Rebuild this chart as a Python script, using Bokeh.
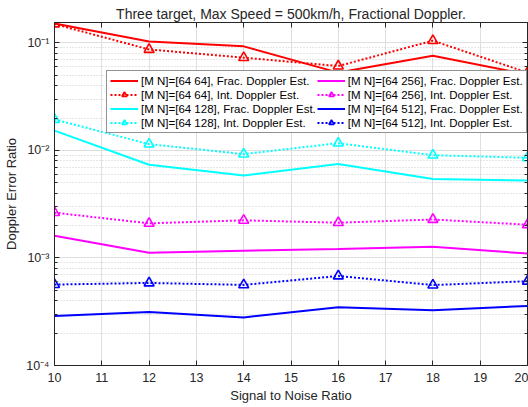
from bokeh.plotting import figure
from bokeh.models import (Legend, LegendItem, LinearAxis, LogAxis, CustomJSTickFormatter,
                          FixedTicker, Range1d)
from bokeh.embed import file_html
from bokeh.resources import INLINE

snr = [10, 12, 14, 16, 18, 20]
frac_64 = [0.152, 0.103, 0.093, 0.053, 0.076, 0.051]
int_64 = [0.150, 0.087, 0.073, 0.061, 0.105, 0.053]
frac_128 = [0.0153, 0.00736, 0.00586, 0.0075, 0.00542, 0.00526]
int_128 = [0.0194, 0.01146, 0.00925, 0.0117, 0.00904, 0.00855]
frac_256 = [0.00161, 0.00112, 0.00117, 0.00121, 0.00127, 0.0011]
int_256 = [0.00264, 0.0021, 0.00224, 0.00213, 0.00228, 0.00204]
frac_512 = [0.000289, 0.000315, 0.00028, 0.000348, 0.000327, 0.000358]
int_512 = [0.000566, 0.000586, 0.000562, 0.00068, 0.00056, 0.000608]

sizes = ["64 64", "64 128", "64 256", "64 512"]
colors = ["#ff0000", "#00ffff", "#ff00ff", "#0000ff"]
frac_series = [frac_64, frac_128, frac_256, frac_512]
int_series = [int_64, int_128, int_256, int_512]

x_ticks = list(range(10, 21))
y_major = [1e-4, 1e-3, 1e-2, 1e-1]

FONT = "Liberation Sans"
TXT = "#262626"

p = figure(width=528, height=407, output_backend="svg", toolbar_location=None,
           x_range=Range1d(10, 20), y_range=Range1d(1e-4, 0.155), y_axis_type="log",
           min_border_left=54, min_border_right=1, min_border_top=22, min_border_bottom=42,
           x_axis_label="Signal to Noise Ratio", y_axis_label="Doppler Error Ratio")

p.title.text = "Three target, Max Speed = 500km/h, Fractional Doppler."
p.title.align = "center"
p.title.text_font = FONT
p.title.text_font_size = "14px"
p.title.text_font_style = "normal"
p.title.text_color = TXT
p.title.standoff = 1

p.outline_line_color = TXT
p.outline_line_width = 1

minor = [k * d for d in [1e-4, 1e-3, 1e-2, 1e-1] for k in range(2, 10)]
yticker = FixedTicker(ticks=y_major, minor_ticks=minor)
xticker = FixedTicker(ticks=x_ticks, minor_ticks=[])

fmt = CustomJSTickFormatter(code="""
const e = Math.round(Math.log10(tick));
const sup = {'-':'\u207b','0':'\u2070','1':'\u00b9','2':'\u00b2','3':'\u00b3','4':'\u2074','5':'\u2075','6':'\u2076','7':'\u2077','8':'\u2078','9':'\u2079'};
return '10' + String(e).split('').map(c => sup[c]).join('');
""")
blank = CustomJSTickFormatter(code="return '';")

def style_axis(ax):
    ax.major_tick_in = 5
    ax.major_tick_out = 0
    ax.minor_tick_in = 3
    ax.minor_tick_out = 0
    ax.axis_line_color = TXT
    ax.major_tick_line_color = TXT
    ax.minor_tick_line_color = TXT
    ax.major_label_text_font = FONT
    ax.major_label_text_font_size = "12.5px"
    ax.major_label_text_color = TXT
    ax.axis_label_text_font = FONT
    ax.axis_label_text_font_size = "13px"
    ax.axis_label_text_font_style = "normal"
    ax.axis_label_text_color = TXT

xa = p.xaxis[0]
xa.ticker = xticker
style_axis(xa)
xa.major_label_standoff = 7
xa.axis_label_standoff = 3

ya = p.yaxis[0]
ya.ticker = yticker
ya.formatter = fmt
style_axis(ya)
ya.major_label_standoff = 5
ya.axis_label_standoff = 4

top = LinearAxis(ticker=xticker, formatter=blank, major_label_standoff=0)
style_axis(top)
p.add_layout(top, "above")
right = LogAxis(ticker=yticker, formatter=blank, major_label_standoff=0)
style_axis(right)
p.add_layout(right, "right")

p.xgrid.ticker = xticker
p.ygrid.ticker = yticker
p.xgrid.grid_line_color = "#dfdfdf"
p.ygrid.grid_line_color = "#dfdfdf"
p.ygrid.minor_grid_line_color = "#cccccc"
p.ygrid.minor_grid_line_dash = "1 2"

items_frac = []
items_int = []
for sz, col, fs, isr in zip(sizes, colors, frac_series, int_series):
    lf = p.line(snr, fs, line_color=col, line_width=2)
    li = p.line(snr, isr, line_color=col, line_width=2, line_dash="2 2")
    mi = p.scatter(snr, isr, marker="triangle", size=10, line_color=col, line_width=1.6,
                   fill_color=None)
    items_frac.append(LegendItem(label=f"[M N]=[{sz}], Frac. Doppler Est.", renderers=[lf]))
    items_int.append(LegendItem(label=f"[M N]=[{sz}], Int. Doppler Est.", renderers=[li, mi]))

items = []
for i in range(4):
    items.append(items_frac[i])
    items.append(items_int[i])

legend = Legend(items=items, location=(52, 232), nrows=4,
                label_text_font=FONT, label_text_font_size="11.5px", label_text_color="#000000",
                glyph_width=28, glyph_height=13, label_standoff=3, label_height=13,
                spacing=1, padding=3, margin=0,
                border_line_color=TXT, border_line_width=1,
                background_fill_color="white", background_fill_alpha=1)
p.add_layout(legend, "center")

open("out.html", "w").write(file_html(p, INLINE))
